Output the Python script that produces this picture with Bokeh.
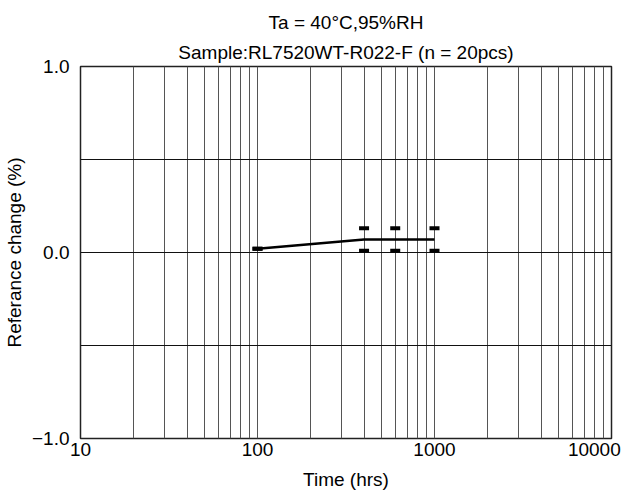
from bokeh.plotting import figure
from bokeh.models import FixedTicker, Title
from bokeh.embed import file_html
from bokeh.resources import INLINE

# ---- data ----
time_hrs = [100, 400, 600, 1000]
mean_change = [0.02, 0.07, 0.07, 0.07]
max_change = [0.02, 0.13, 0.13, 0.13]
min_change = [0.02, 0.01, 0.01, 0.01]

# x tick labels; the last one sits a little left of 10000 (as in the reference)
x_label_pos = [10, 100, 1000, 8000]
x_labels = ["10", "100", "1000", "10000"]
y_major = [-1, 0, 1]
y_labels = ["\u22121.0", "0.0", "1.0"]
y_grid = [-1, -0.5, 0, 0.5, 1]

title1 = "Ta = 40\u00b0C,95%RH"
title2 = "Sample:RL7520WT-R022-F (n = 20pcs)"
x_title = "Time (hrs)"
y_title = "Referance change (%)"

FONT = "Liberation Sans"
FS = "19px"

p = figure(width=622, height=492, x_axis_type="log",
           x_range=(10, 10000), y_range=(-1, 1),
           output_backend="svg", toolbar_location=None, title=None,
           min_border_left=80, min_border_right=11,
           min_border_top=66, min_border_bottom=40)

p.background_fill_color = "white"
p.border_fill_color = "white"
p.outline_line_color = "#222222"
p.outline_line_width = 1.5

# grids
x_grid = [m * 10 ** e for e in range(1, 4) for m in range(1, 10)] + [10000]
p.xgrid.ticker = FixedTicker(ticks=x_grid)
p.ygrid.ticker = FixedTicker(ticks=y_grid)
p.xgrid.grid_line_color = "#555555"
p.ygrid.grid_line_color = "#111111"
p.xgrid.grid_line_width = 1
p.ygrid.grid_line_width = 1

# axes
for ax in (p.xaxis[0], p.yaxis[0]):
    ax.axis_line_color = None
    ax.major_tick_line_color = None
    ax.minor_tick_line_color = None
    ax.major_tick_in = 0
    ax.major_tick_out = 0
    ax.major_label_text_font = FONT
    ax.major_label_text_font_size = FS
    ax.major_label_text_color = "black"
    ax.axis_label_text_font = FONT
    ax.axis_label_text_font_size = FS
    ax.axis_label_text_font_style = "normal"
    ax.axis_label_text_color = "black"

p.xaxis.ticker = FixedTicker(ticks=x_label_pos)
p.xaxis.major_label_overrides = {v: t for v, t in zip(x_label_pos, x_labels)}
p.xaxis.major_label_standoff = 4
p.xaxis.axis_label = x_title
p.xaxis.axis_label_standoff = 10

p.yaxis.ticker = FixedTicker(ticks=y_major)
p.yaxis.major_label_overrides = {v: t for v, t in zip(y_major, y_labels)}
p.yaxis.major_label_standoff = 11
p.yaxis.axis_label = y_title
p.yaxis.axis_label_standoff = 4

# titles
p.add_layout(Title(text=title2, align="center", text_font=FONT, text_font_size=FS,
                   text_font_style="normal", text_color="black", standoff=8), "above")
p.add_layout(Title(text=title1, align="center", text_font=FONT, text_font_size=FS,
                   text_font_style="normal", text_color="black", standoff=5), "above")

# data
p.line(time_hrs, mean_change, line_color="black", line_width=2.5)
p.rect(time_hrs, max_change, width=10, height=4, width_units="screen",
       height_units="screen", fill_color="black", line_color=None)
p.rect(time_hrs, min_change, width=10, height=4, width_units="screen",
       height_units="screen", fill_color="black", line_color=None)

open("out.html", "w").write(file_html(p, INLINE))
